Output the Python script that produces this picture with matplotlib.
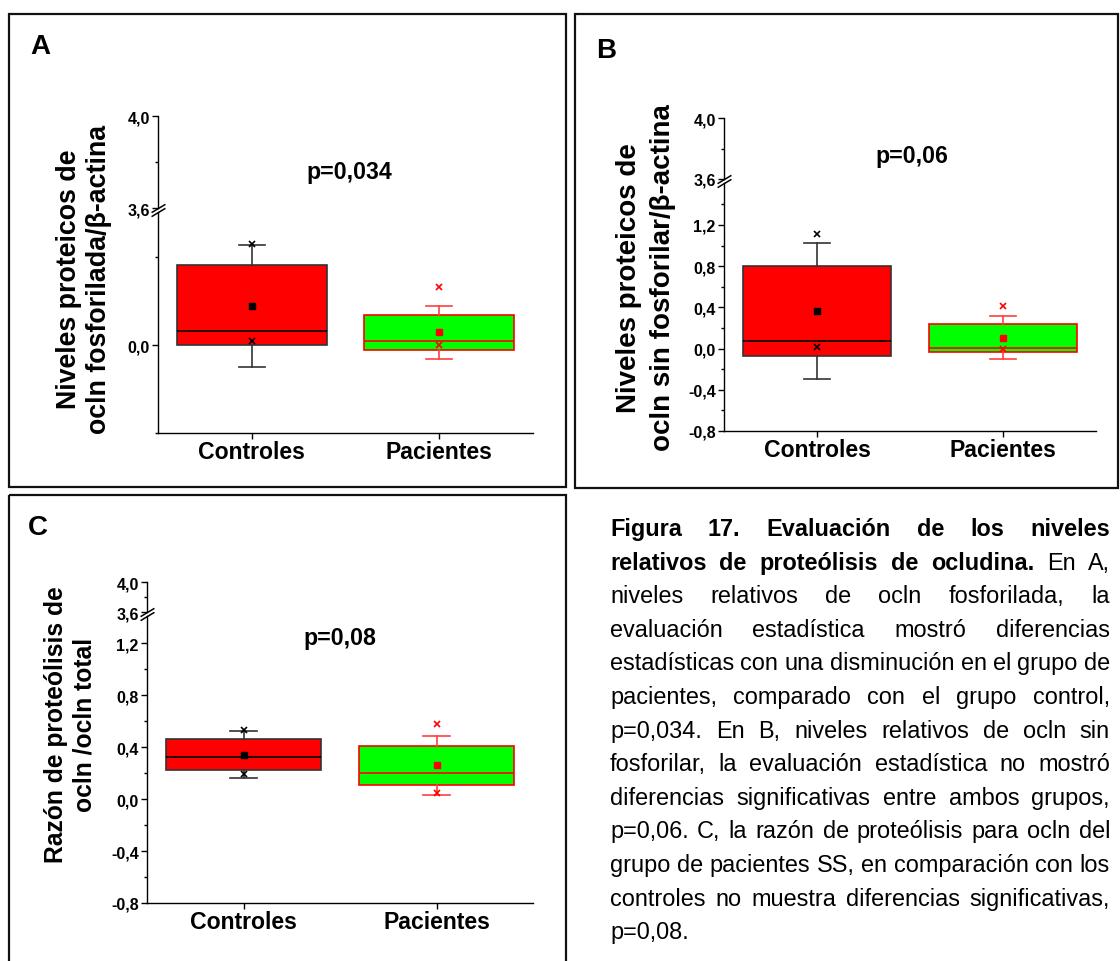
"""
Figura 17: boxplots of ocludin proteolysis levels (panels A, B, C)
with broken y axes, plus the justified Spanish caption on the right.
"""
import matplotlib
matplotlib.use("Agg")
import matplotlib.pyplot as plt
from matplotlib.patches import Rectangle
from matplotlib.transforms import Affine2D
from matplotlib.ticker import FixedLocator, FuncFormatter

plt.rcParams["font.family"] = ["Liberation Sans", "DejaVu Sans"]

W, H, DPI = 1120, 962, 100

GROUPS = ["Controles", "Pacientes"]

# panel A - ocln fosforilada / beta-actina
a_q1 = [0.000, -0.023]
a_med = [0.064, 0.018]
a_q3 = [0.365, 0.138]
a_mean = [0.179, 0.059]
a_whislo = [-0.099, -0.062]
a_whishi = [0.456, 0.179]
a_pmin = [0.018, 0.001]
a_pmax = [0.459, 0.265]

# panel B - ocln sin fosforilar / beta-actina
b_q1 = [-0.075, -0.032]
b_med = [0.078, 0.007]
b_q3 = [0.803, 0.241]
b_mean = [0.364, 0.104]
b_whislo = [-0.293, -0.104]
b_whishi = [1.02, 0.312]
b_pmin = [0.013, 0.000]
b_pmax = [1.115, 0.41]

# panel C - razon de proteolisis
c_q1 = [0.225, 0.108]
c_med = [0.321, 0.198]
c_q3 = [0.459, 0.408]
c_mean = [0.341, 0.259]
c_whislo = [0.164, 0.031]
c_whishi = [0.521, 0.485]
c_pmin = [0.19, 0.046]
c_pmax = [0.533, 0.575]

P_TEXT = ["p=0,034", "p=0,06", "p=0,08"]

CAPTION = [
    [("Figura 17. Evaluación de los niveles", "bold")],
    [("relativos de proteólisis de ocludina.", "bold"), ("En A,", "normal")],
    [("niveles relativos de ocln fosforilada, la", "normal")],
    [("evaluación estadística mostró diferencias", "normal")],
    [("estadísticas con una disminución en el grupo de", "normal")],
    [("pacientes, comparado con el grupo control,", "normal")],
    [("p=0,034. En B, niveles relativos de ocln sin", "normal")],
    [("fosforilar, la evaluación estadística no mostró", "normal")],
    [("diferencias significativas entre ambos  grupos,", "normal")],
    [("p=0,06. C, la razón de proteólisis para ocln del", "normal")],
    [("grupo de pacientes SS, en comparación con los", "normal")],
    [("controles no muestra diferencias significativas,", "normal")],
    [("p=0,08.", "normal")],
]

RED = "#FF0000"
GREEN = "#00FF00"

fig = plt.figure(figsize=(W / DPI, H / DPI), dpi=DPI)
# pixel coordinates, origin top-left
px = Affine2D().scale(1.0 / W, -1.0 / H).translate(0, 1) + fig.transFigure


def frac(x0, y_top, x1, y_bot):
    return [x0 / W, 1 - y_bot / H, (x1 - x0) / W, (y_bot - y_top) / H]


def comma(v, _pos=None):
    return f"{v:.1f}".replace(".", ",").replace("-0,0", "0,0")


def style_axis(ax, major, minor):
    ax.yaxis.set_major_locator(FixedLocator(major))
    ax.yaxis.set_minor_locator(FixedLocator(minor))
    ax.yaxis.set_major_formatter(FuncFormatter(comma))
    ax.tick_params(axis="y", which="major", direction="out", length=4, width=1,
                   labelsize=11.5, pad=2)
    ax.tick_params(axis="y", which="minor", direction="out", length=2.5, width=1)
    for lab in ax.get_yticklabels():
        lab.set_fontweight("bold")
    ax.spines[["top", "right"]].set_visible(False)
    ax.spines[:].set_linewidth(1)


def broken_axes(left, right, top, up_bot, low_top, bottom, low_lim,
                low_major, low_minor):
    ax_up = fig.add_axes(frac(left, top, right, up_bot))
    ax_lo = fig.add_axes(frac(left, low_top, right, bottom))
    ax_up.set_ylim(3.6, 4.0)
    ax_lo.set_ylim(*low_lim)
    for ax in (ax_up, ax_lo):
        ax.set_xlim(0.5, 2.5)
        ax.patch.set_alpha(0)
    style_axis(ax_up, [3.6, 4.0], [3.8])
    style_axis(ax_lo, low_major, low_minor)
    ax_up.spines["bottom"].set_visible(False)
    ax_up.set_xticks([])
    ax_lo.set_xticks([1, 2])
    ax_lo.set_xticklabels(GROUPS, fontsize=16.6, fontweight="bold")
    ax_lo.tick_params(axis="x", direction="out", length=4, width=1, pad=1)
    slash = dict(marker=[(-1, -0.6), (1, 0.6)], markersize=10, linestyle="none",
                 color="k", mec="k", mew=1.1, clip_on=False)
    ax_up.plot([0], [0], transform=ax_up.transAxes, **slash)
    ax_lo.plot([0], [1], transform=ax_lo.transAxes, **slash)
    return ax_lo


def draw_boxes(ax, q1, med, q3, mean, lo, hi, pmin, pmax):
    looks = [
        dict(face=RED, edge="#333333", med="black", whisk="#333333", pt="black"),
        dict(face=GREEN, edge=RED, med=RED, whisk="#FF4040", pt=RED),
    ]
    for i, lk in enumerate(looks):
        stats = [dict(q1=q1[i], med=med[i], q3=q3[i], mean=mean[i],
                      whislo=lo[i], whishi=hi[i], fliers=[pmin[i], pmax[i]])]
        ax.bxp(stats, positions=[i + 1], widths=0.8, capwidths=0.14,
               patch_artist=True, showmeans=True, showfliers=True,
               manage_ticks=False,
               boxprops=dict(facecolor=lk["face"], edgecolor=lk["edge"], linewidth=1.2),
               medianprops=dict(color=lk["med"], linewidth=1.2),
               whiskerprops=dict(color=lk["whisk"], linewidth=1.2),
               capprops=dict(color=lk["whisk"], linewidth=1.2),
               meanprops=dict(marker="s", markerfacecolor=lk["pt"],
                              markeredgecolor=lk["pt"], markersize=4),
               flierprops=dict(marker="x", markeredgecolor=lk["pt"],
                               markersize=4, markeredgewidth=1.2))
    ax.set_xlim(0.5, 2.5)


# panel frames
for x0, y0, x1, y1 in [(9, 15, 566, 488), (575, 15, 1118, 489), (9, 496, 566, 975)]:
    fig.add_artist(Rectangle((x0, y0), x1 - x0, y1 - y0, transform=px,
                             fill=False, edgecolor="#111111", linewidth=1.6))

ax_a = broken_axes(158, 533, 117, 209, 213, 434, (-0.4, 0.605), [0.0], [-0.4, 0.4])
draw_boxes(ax_a, a_q1, a_med, a_q3, a_mean, a_whislo, a_whishi, a_pmin, a_pmax)

ax_b = broken_axes(724, 1096, 119, 180, 184, 432, (-0.8, 1.607),
                   [-0.8, -0.4, 0.0, 0.4, 0.8, 1.2], [-0.6, -0.2, 0.2, 0.6, 1.0, 1.4])
draw_boxes(ax_b, b_q1, b_med, b_q3, b_mean, b_whislo, b_whishi, b_pmin, b_pmax)

ax_c = broken_axes(147, 533, 583, 613, 617, 904, (-0.8, 1.408),
                   [-0.8, -0.4, 0.0, 0.4, 0.8, 1.2], [-0.6, -0.2, 0.2, 0.6, 1.0])
draw_boxes(ax_c, c_q1, c_med, c_q3, c_mean, c_whislo, c_whishi, c_pmin, c_pmax)

# panel letters
for letter, (x, y) in zip("ABC", [(40, 47), (606, 51), (38, 528)]):
    fig.text(x, y, letter, transform=px, ha="center", va="center",
             fontsize=20, fontweight="bold")

# y axis titles
fig.text(84, 279, "Niveles proteicos de\nocln fosforilada/β-actina", transform=px,
         rotation=90, ha="center", va="center", ma="center",
         fontsize=19.3, fontweight="bold", linespacing=1.2)
fig.text(646, 278, "Niveles proteicos de\nocln sin fosforilar/β-actina", transform=px,
         rotation=90, ha="center", va="center", ma="center",
         fontsize=20, fontweight="bold", linespacing=1.35)
fig.text(70, 725, "Razón de proteólisis de\nocln /ocln total", transform=px,
         rotation=90, ha="center", va="center", ma="center",
         fontsize=17.7, fontweight="bold", linespacing=1.25)

# p values
for s, (x, y) in zip(P_TEXT, [(349, 172), (912, 157), (340, 639)]):
    fig.text(x, y, s, transform=px, ha="center", va="center",
             fontsize=16.7, fontweight="bold")

# justified caption
CAP_L, CAP_R, CAP_Y0, CAP_DY, CAP_FS = 610, 1110, 536, 33.6, 16.9
renderer = fig.canvas.get_renderer()
space = 0.278 * CAP_FS * DPI / 72
for i, line in enumerate(CAPTION):
    words = [(w, wt) for seg, wt in line for w in seg.split()]
    texts = [fig.text(0, 0, w, transform=px, fontsize=CAP_FS, fontweight=wt,
                      va="baseline", ha="left") for w, wt in words]
    widths = [t.get_window_extent(renderer=renderer).width for t in texts]
    last = i == len(CAPTION) - 1
    gap = space if last or len(words) < 2 else (CAP_R - CAP_L - sum(widths)) / (len(words) - 1)
    x = CAP_L
    y = CAP_Y0 + i * CAP_DY
    for t, w in zip(texts, widths):
        t.set_position((x, y))
        x += w + gap

fig.savefig("out.png", dpi=DPI)
plt.close(fig)
